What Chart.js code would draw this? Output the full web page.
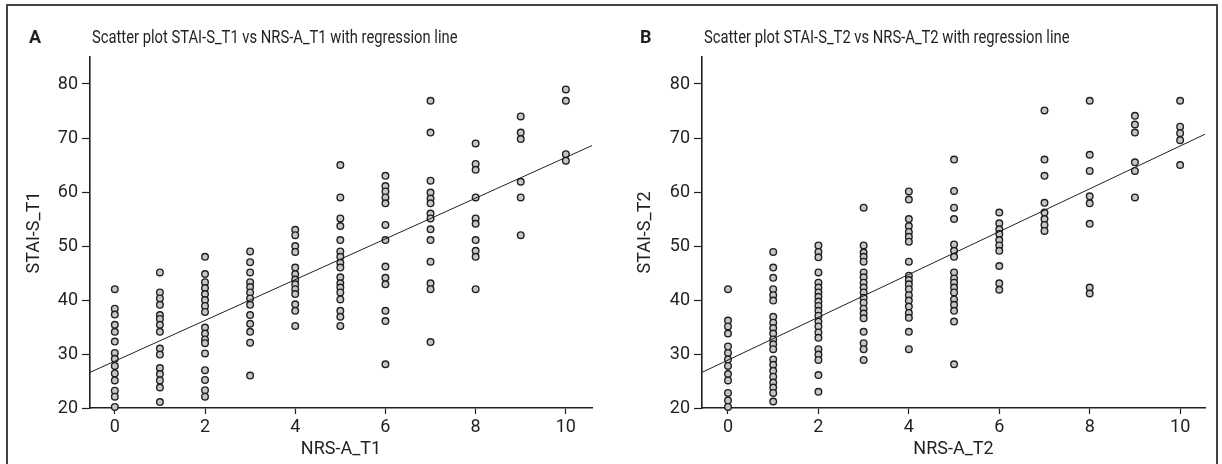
<!DOCTYPE html>
<html>
<head>
<meta charset="utf-8">
<script src="https://cdn.jsdelivr.net/npm/chart.js@4.4.1/dist/chart.umd.min.js"></script>
<style>
  body { margin: 0; background: #fff; }
  #wrap { position: relative; width: 1222px; height: 464px; overflow: hidden; background: #fff; }
  #frame { position: absolute; left: 6px; top: 4px; width: 1208px; height: 480px; border: 2px solid #444; }
  canvas { position: absolute; top: 0; }
  #cA { left: 0; }
  #cB { left: 611px; }
</style>
</head>
<body>
<div id="wrap">
  <div id="frame"></div>
  <canvas id="cA" width="611" height="464"></canvas>
  <canvas id="cB" width="611" height="464"></canvas>
</div>
<script>
// NRS-A score levels (x categories)
const nrsLevels = [0, 1, 2, 3, 4, 5, 6, 7, 8, 9, 10];

// STAI-S_T1 values, one list per NRS-A_T1 level
const staiT1 = [
    [42, 38.4, 37.3, 35.4, 34.1, 32.3, 30.2, 29.1, 27.8, 26.4, 25.1, 23.2, 22.1, 20.2],
    [45.1, 41.4, 40.3, 39.1, 37.2, 36.5, 35.4, 34.1, 31, 29.9, 27.4, 26.3, 25.1, 23.8, 21.1],
    [48, 44.8, 43.3, 42.2, 41.1, 40, 38.9, 37.8, 34.9, 33.8, 32.7, 32, 30.1, 27, 25.2, 23.3, 22.1],
    [49, 47, 45.1, 43.3, 42.4, 41.4, 40.3, 39.1, 37.2, 35.6, 34.1, 32.1, 26],
    [53, 52, 50, 48.9, 46, 44.8, 43.8, 42.9, 42, 41.1, 39.2, 38, 35.2],
    [65, 59, 55.1, 53.7, 51.1, 49, 48, 46.9, 46, 44.2, 43.1, 42.3, 41.4, 40.1, 38, 36.9, 35.2],
    [63, 61.1, 60.1, 59, 57.9, 53.9, 51.1, 46.2, 44.1, 42.9, 38, 36.1, 28.1],
    [76.9, 71, 62.1, 59.9, 58.8, 57.9, 56, 55.1, 53.1, 51.1, 47.1, 43.1, 42, 32.2],
    [69, 65.2, 64.1, 59, 55.1, 54.1, 51.1, 49.1, 48, 42],
    [74, 71, 69.8, 61.9, 59, 52],
    [79, 76.9, 67, 65.8]
];

// STAI-S_T2 values, one list per NRS-A_T2 level
const staiT2 = [
    [42, 36.2, 35.1, 33.8, 31.4, 30.2, 29, 27.8, 26.3, 25.1, 22.8, 21.4, 20.2],
    [48.9, 46, 44.1, 42, 40.9, 39.9, 36.9, 35.8, 34.8, 33.8, 32.7, 31.8, 30.9, 29, 28, 26.9, 25.8, 24.7, 23.8, 22.8, 21.2],
    [50.1, 48.9, 47.9, 45.1, 43.2, 42.3, 41.4, 40.6, 39.7, 38.9, 38, 37.1, 36, 35.1, 34, 33, 30.9, 29.9, 28.9, 26.1, 23],
    [57.1, 50.1, 48.8, 48, 47.1, 45.1, 44.2, 43.2, 42.3, 41.4, 40.4, 39.5, 38.4, 37.5, 36.6, 34.1, 32, 30.9, 28.9],
    [60.1, 58.6, 55, 53.7, 52.6, 51.7, 50.8, 47.1, 44.5, 43.7, 42.9, 42, 40.9, 39.9, 38.8, 37.6, 36.7, 34.1, 30.9],
    [66, 60.2, 57.1, 55, 50.3, 49.1, 48, 45.1, 44, 43.2, 42.3, 41.4, 40.1, 39.1, 38, 36, 28.1],
    [56.2, 54.2, 53.1, 52.2, 51.1, 50.1, 49.1, 46.3, 43.1, 41.9],
    [75.1, 66, 63, 58, 56.2, 55, 53.9, 52.8],
    [76.9, 66.9, 63.9, 59.2, 57.9, 54.1, 42.3, 41.2],
    [74.1, 72.5, 71, 65.5, 63.9, 59],
    [76.9, 72.1, 70.9, 69.6, 65]
];

// regression line end points [x, y], read at the axis edges
const regT1 = [[-0.55, 26.6], [10.58, 68.6]];
const regT2 = [[-0.575, 26.6], [10.55, 70.7]];

// axis ranges
const xRangeT1 = [-0.55, 10.58];
const xRangeT2 = [-0.575, 10.55];
const yRange = [20, 85];

const FONT = 'Roboto, "Noto Sans", sans-serif';
const INK = '#231f20';

// panel letter + title; the original uses a condensed face, so squeeze Roboto a little
const panelHeading = {
    id: 'panelHeading',
    afterDraw(chart, args, opts) {
        const ctx = chart.ctx;
        ctx.save();
        ctx.fillStyle = INK;
        ctx.textBaseline = 'middle';
        ctx.font = 'bold 18px ' + FONT;
        ctx.fillText(opts.letter, 29, opts.y);
        ctx.translate(chart.chartArea.left + 2, opts.y);
        ctx.scale(0.82, 1);
        ctx.font = '18px ' + FONT;
        ctx.fillText(opts.title, 0, 0);
        ctx.restore();
    }
};

function toPoints(byLevel) {
    const pts = [];
    byLevel.forEach((vals, i) => vals.forEach(v => pts.push({ x: nrsLevels[i], y: v })));
    return pts;
}

function makePanel(id, letter, titleText, xTitle, yTitle, byLevel, reg, xRange, yAxisWidth, padRight) {
    const ctx = document.getElementById(id).getContext('2d');
    return new Chart(ctx, {
        type: 'scatter',
        data: {
            datasets: [
                {
                    type: 'line',
                    data: reg.map(p => ({ x: p[0], y: p[1] })),
                    borderColor: INK,
                    borderWidth: 1,
                    pointRadius: 0,
                    fill: false,
                    order: 0
                },
                {
                    data: toPoints(byLevel),
                    backgroundColor: '#c6c6c6',
                    borderColor: '#231f20',
                    borderWidth: 1.4,
                    pointRadius: 3.3,
                    clip: false,
                    order: 1
                }
            ]
        },
        options: {
            responsive: false,
            animation: false,
            layout: { padding: { left: 0, right: padRight, top: 57, bottom: 0 } },
            plugins: {
                legend: { display: false },
                tooltip: { enabled: false },
                title: { display: false },
                panelHeading: { letter: letter, title: titleText, y: 38 }
            },
            scales: {
                x: {
                    type: 'linear',
                    min: xRange[0],
                    max: xRange[1],
                    afterFit: s => { s.height = 56; },
                    border: { color: INK, width: 1.6 },
                    grid: { drawOnChartArea: false, drawTicks: true, tickLength: 6, color: INK, tickWidth: 1.2 },
                    ticks: { stepSize: 2, includeBounds: false, padding: 3, color: INK, font: { family: FONT, size: 18 } },
                    title: { display: true, text: xTitle, color: INK, font: { family: FONT, size: 18 }, padding: { top: 0, bottom: 4 } }
                },
                y: {
                    type: 'linear',
                    min: yRange[0],
                    max: yRange[1],
                    afterFit: s => { s.width = yAxisWidth; },
                    border: { color: INK, width: 1.6 },
                    grid: { drawOnChartArea: false, drawTicks: true, tickLength: 8, color: INK, tickWidth: 1.2 },
                    ticks: { stepSize: 10, includeBounds: false, padding: 4, color: INK, font: { family: FONT, size: 18 } },
                    title: { display: true, text: yTitle, color: INK, font: { family: FONT, size: 18 }, padding: { top: 24, bottom: 0 } }
                }
            }
        },
        plugins: [panelHeading]
    });
}

makePanel('cA', 'A', 'Scatter plot STAI-S_T1 vs NRS-A_T1 with regression line', 'NRS-A_T1', 'STAI-S_T1',
    staiT1, regT1, xRangeT1, 90, 19);
makePanel('cB', 'B', 'Scatter plot STAI-S_T2 vs NRS-A_T2 with regression line', 'NRS-A_T2', 'STAI-S_T2',
    staiT2, regT2, xRangeT2, 91, 17);
</script>
</body>
</html>
